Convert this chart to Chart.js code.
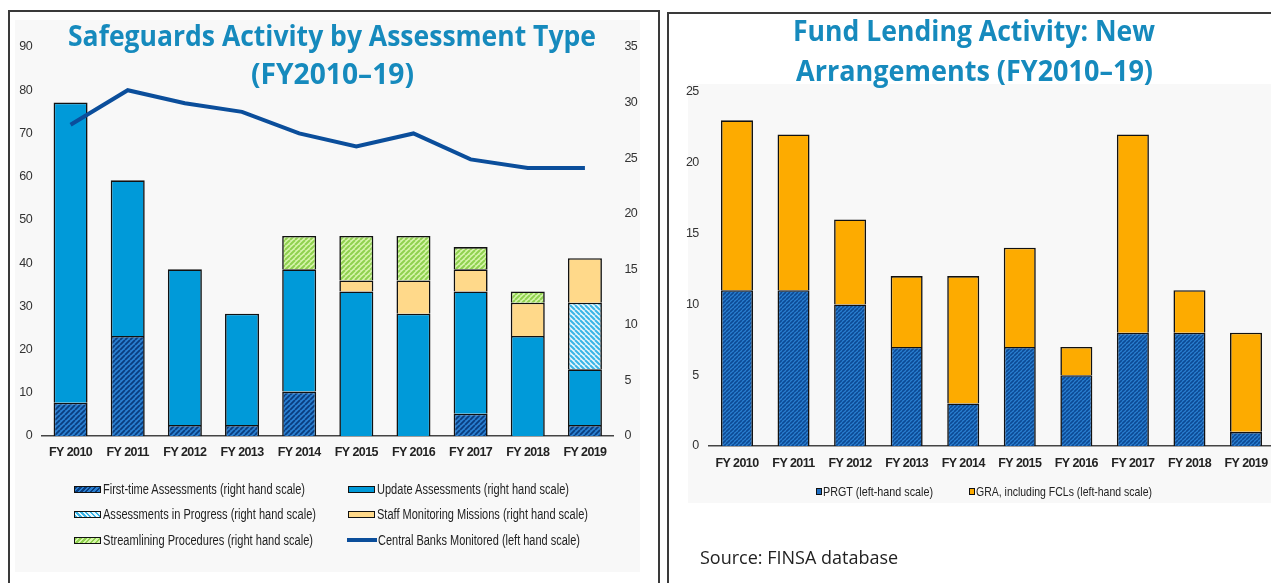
<!DOCTYPE html>
<html><head><meta charset="utf-8">
<script src="https://cdn.jsdelivr.net/npm/chart.js@4.4.1/dist/chart.umd.min.js"></script>
<style>
html,body{margin:0;padding:0;width:1271px;height:583px;overflow:hidden;background:#fff;}
body{position:relative;}
.abs{position:absolute;}
#frameL{left:8px;top:10px;width:652px;height:620px;border:2px solid #3a3a3a;box-sizing:border-box;}
#frameR{left:667px;top:12px;width:700px;height:620px;border:2px solid #3a3a3a;box-sizing:border-box;}
#bgL{left:15px;top:20px;width:625px;height:552px;background:#f8f8f8;}
#bgR{left:688px;top:84px;width:590px;height:419px;background:#f8f8f8;}
canvas{position:absolute;}
.title{position:absolute;font-family:'Open Sans',sans-serif;font-weight:700;color:#168abd;font-size:28px;line-height:1;white-space:nowrap;transform-origin:left center;}
.leg{position:absolute;display:flex;align-items:center;font-family:'Liberation Sans',Arial,sans-serif;font-size:14px;color:#222;white-space:nowrap;line-height:1;}
.leg .tx{display:inline-block;transform-origin:left center;}
.sw{width:25px;height:5px;border:1.5px solid #111;margin-right:2px;flex:none;}
.sq{width:4px;height:5px;border:1px solid #111;margin-right:1px;flex:none;}
#source{left:700px;top:545px;font-family:'Open Sans',sans-serif;font-size:18px;color:#222;white-space:nowrap;}
</style></head>
<body>
<div id="frameL" class="abs"></div>
<div id="frameR" class="abs"></div>
<div id="bgL" class="abs"></div>
<div id="bgR" class="abs"></div>
<canvas id="cL" width="660" height="583" style="left:0;top:0;"></canvas>
<canvas id="cR" width="628" height="583" style="left:662px;top:0;"></canvas>

<div class="title" data-cx="332" data-cy="35" data-w="528">Safeguards Activity by Assessment Type</div>
<div class="title" data-cx="332" data-cy="73" data-w="163">(FY2010–19)</div>
<div class="title" data-cx="974" data-cy="30" data-w="362">Fund Lending Activity: New</div>
<div class="title" data-cx="974" data-cy="70" data-w="357">Arrangements (FY2010–19)</div>

<div class="leg" style="left:74px;top:482px;"><span class="sw" style="background:repeating-linear-gradient(135deg,#0a3d7e 0 1.5px,#2a7fd0 1.5px 3.5px);"></span><span class="tx" data-w="202">First-time Assessments (right hand scale)</span></div>
<div class="leg" style="left:74px;top:507px;"><span class="sw" style="background:repeating-linear-gradient(45deg,#3ab5e6 0 1.5px,#e8f7fd 1.5px 3.5px);"></span><span class="tx" data-w="213">Assessments in Progress (right hand scale)</span></div>
<div class="leg" style="left:74px;top:533px;"><span class="sw" style="background:repeating-linear-gradient(135deg,#8fd14f 0 1.5px,#d6f5aa 1.5px 3.5px);"></span><span class="tx" data-w="210">Streamlining Procedures (right hand scale)</span></div>
<div class="leg" style="left:348px;top:482px;"><span class="sw" style="background:#009ad9;"></span><span class="tx" data-w="192">Update Assessments (right hand scale)</span></div>
<div class="leg" style="left:348px;top:507px;"><span class="sw" style="background:#ffd98a;"></span><span class="tx" data-w="211">Staff Monitoring Missions (right hand scale)</span></div>
<div class="leg" style="left:347px;top:533px;"><span style="display:inline-block;width:30px;height:3.5px;background:#0b4e9b;margin-right:1px;"></span><span class="tx" data-w="202">Central Banks Monitored (left hand scale)</span></div>

<div class="leg" style="left:816px;top:485px;font-size:13px;"><span class="sq" style="background:#1f6fc4;"></span><span class="tx" data-w="110">PRGT (left-hand scale)</span></div>
<div class="leg" style="left:969px;top:485px;font-size:13px;"><span class="sq" style="background:#fdab00;"></span><span class="tx" data-w="176">GRA, including FCLs (left-hand scale)</span></div>

<div id="source" class="abs">Source: FINSA database</div>

<script>
// ---------- Data ----------
const categories = ['FY 2010','FY 2011','FY 2012','FY 2013','FY 2014','FY 2015','FY 2016','FY 2017','FY 2018','FY 2019'];
// Safeguards (right hand scale)
const firstTimeAssessments = [3, 9, 1, 1, 4, 0, 0, 2, 0, 1];
const updateAssessments    = [27, 14, 14, 10, 11, 13, 11, 11, 9, 5];
const assessmentsInProgress = [0, 0, 0, 0, 0, 0, 0, 0, 0, 6];
const staffMonitoringMissions = [0, 0, 0, 0, 0, 1, 3, 2, 3, 4];
const streamliningProcedures = [0, 0, 0, 0, 3, 4, 4, 2, 1, 0];
// Central banks monitored (left hand scale)
const centralBanksMonitored = [72, 80, 77, 75, 70, 67, 70, 64, 62, 62];
const leftTicks = [0,10,20,30,40,50,60,70,80,90];
const rightTicks = [0,5,10,15,20,25,30,35];
// Fund lending (left-hand scale)
const prgt = [11, 11, 10, 7, 3, 7, 5, 8, 8, 1];
const gra  = [12, 11, 6, 5, 9, 7, 2, 14, 3, 7];
const lendingTicks = [0,5,10,15,20,25];

// ---------- Patterns ----------
function hatch(bg, fg, size, lw, back){
  const c = document.createElement('canvas'); c.width = c.height = size;
  const g = c.getContext('2d');
  g.fillStyle = bg; g.fillRect(0,0,size,size);
  g.strokeStyle = fg; g.lineWidth = lw; g.beginPath();
  for (let k=-1;k<=1;k++){
    if(!back){ g.moveTo(k*size, size); g.lineTo(k*size+size, 0); }
    else { g.moveTo(k*size, 0); g.lineTo(k*size+size, size); }
  }
  g.stroke();
  return g.createPattern(c,'repeat');
}
const pFirst = hatch('#2a7fd0','#0a3d7e',5,1.8,false);
const pProg = hatch('#e8f7fd','#3ab5e6',5,2,true);
const pStream = hatch('#d6f5aa','#8fd14f',5,2,false);
const pPRGT = hatch('#2a7fd0','#0c4a95',4,1.6,false);

const sans = "'Liberation Sans',Arial,sans-serif";
const tickFont = {family: sans, size: 12.5};
const catFont = {family: sans, size: 12.5, weight: 'bold'};

// narrow look for canvas text (Arial Narrow is not installed)
const narrowText = {
  id:'narrowText',
  beforeUpdate(c){ c.ctx.letterSpacing = '-0.6px'; },
  beforeLayout(c){ c.ctx.letterSpacing = '-0.6px'; },
  beforeDraw(c){ c.ctx.letterSpacing = '-0.6px'; }
};

function barDs(label, data, bg){
  return {type:'bar', label, data, backgroundColor:bg, borderColor:'#111', borderWidth:1.6,
    yAxisID:'yR', stack:'s', order:1, barPercentage:0.595, categoryPercentage:1};
}

new Chart(document.getElementById('cL'), {
  type:'bar',
  plugins:[narrowText],
  data:{labels:categories, datasets:[
    {type:'line', label:'Central Banks Monitored (left hand scale)', data:centralBanksMonitored, yAxisID:'yL',
     borderColor:'#0b4e9b', borderWidth:4, pointRadius:0, tension:0, fill:false, order:0},
    barDs('First-time Assessments (right hand scale)', firstTimeAssessments, pFirst),
    barDs('Update Assessments (right hand scale)', updateAssessments, '#009ad9'),
    barDs('Assessments in Progress (right hand scale)', assessmentsInProgress, pProg),
    barDs('Staff Monitoring Missions (right hand scale)', staffMonitoringMissions, '#ffd98a'),
    barDs('Streamlining Procedures (right hand scale)', streamliningProcedures, pStream)
  ]},
  options:{
    responsive:false, animation:false,
    layout:{padding:{top:47,left:0,right:0,bottom:0}},
    plugins:{legend:{display:false}, tooltip:{enabled:false}, title:{display:false}},
    scales:{
      x:{stacked:true, offset:true, grid:{display:false, drawTicks:false},
         border:{display:true,color:'#444',width:1.5},
         ticks:{font:catFont,color:'#222',padding:9,maxRotation:0,autoSkip:false},
         afterFit(s){ s.height = 583-436; }},
      yL:{position:'left', min:0, max:90, grid:{display:false, drawTicks:false}, border:{display:false},
          afterBuildTicks(s){ s.ticks = leftTicks.map(v=>({value:v})); },
          ticks:{font:tickFont,color:'#333',padding:10},
          afterFit(s){ s.width = 42; }},
      yR:{position:'right', stacked:true, min:0, max:35, grid:{display:false, drawTicks:false}, border:{display:false},
          afterBuildTicks(s){ s.ticks = rightTicks.map(v=>({value:v})); },
          ticks:{font:tickFont,color:'#333',padding:11},
          afterFit(s){ s.width = 660-613.5; }}
    }
  }
});

new Chart(document.getElementById('cR'), {
  type:'bar',
  plugins:[narrowText],
  data:{labels:categories, datasets:[
    {label:'PRGT (left-hand scale)', data:prgt, backgroundColor:pPRGT, borderColor:'#111', borderWidth:1.6,
     barPercentage:0.566, categoryPercentage:1},
    {label:'GRA, including FCLs (left-hand scale)', data:gra, backgroundColor:'#fdab00', borderColor:'#111', borderWidth:1.6,
     barPercentage:0.566, categoryPercentage:1}
  ]},
  options:{
    responsive:false, animation:false,
    layout:{padding:{top:92,left:0,right:628-612.3,bottom:0}},
    plugins:{legend:{display:false}, tooltip:{enabled:false}},
    scales:{
      x:{stacked:true, offset:true, grid:{display:false, drawTicks:false},
         border:{display:true,color:'#444',width:1.5},
         ticks:{font:catFont,color:'#222',padding:10,maxRotation:0,autoSkip:false},
         afterFit(s){ s.height = 583-446; }},
      y:{stacked:true, min:0, max:25, grid:{display:false, drawTicks:false}, border:{display:false},
         afterBuildTicks(s){ s.ticks = lendingTicks.map(v=>({value:v})); },
         ticks:{font:tickFont,color:'#333',padding:10},
         afterFit(s){ s.width = 46.7; }}
    }
  }
});

// fit titles / legend texts to reference widths
function fitAll(){
  document.querySelectorAll('.title').forEach(el=>{
    el.style.transform = 'none';
    const w = el.getBoundingClientRect().width;
    const target = +el.dataset.w, cx = +el.dataset.cx, cy = +el.dataset.cy;
    const h = el.offsetHeight;
    el.style.left = (cx - target/2) + 'px';
    el.style.top = (cy - h/2) + 'px';
    el.style.transform = 'scaleX(' + (target / w).toFixed(4) + ')';
  });
  document.querySelectorAll('.leg .tx').forEach(el=>{
    el.style.transform = 'none';
    const w = el.getBoundingClientRect().width;
    el.style.transform = 'scaleX(' + (+el.dataset.w / w).toFixed(4) + ')';
  });
}
fitAll();
if (document.fonts && document.fonts.ready) document.fonts.ready.then(fitAll);
</script>
</body></html>
